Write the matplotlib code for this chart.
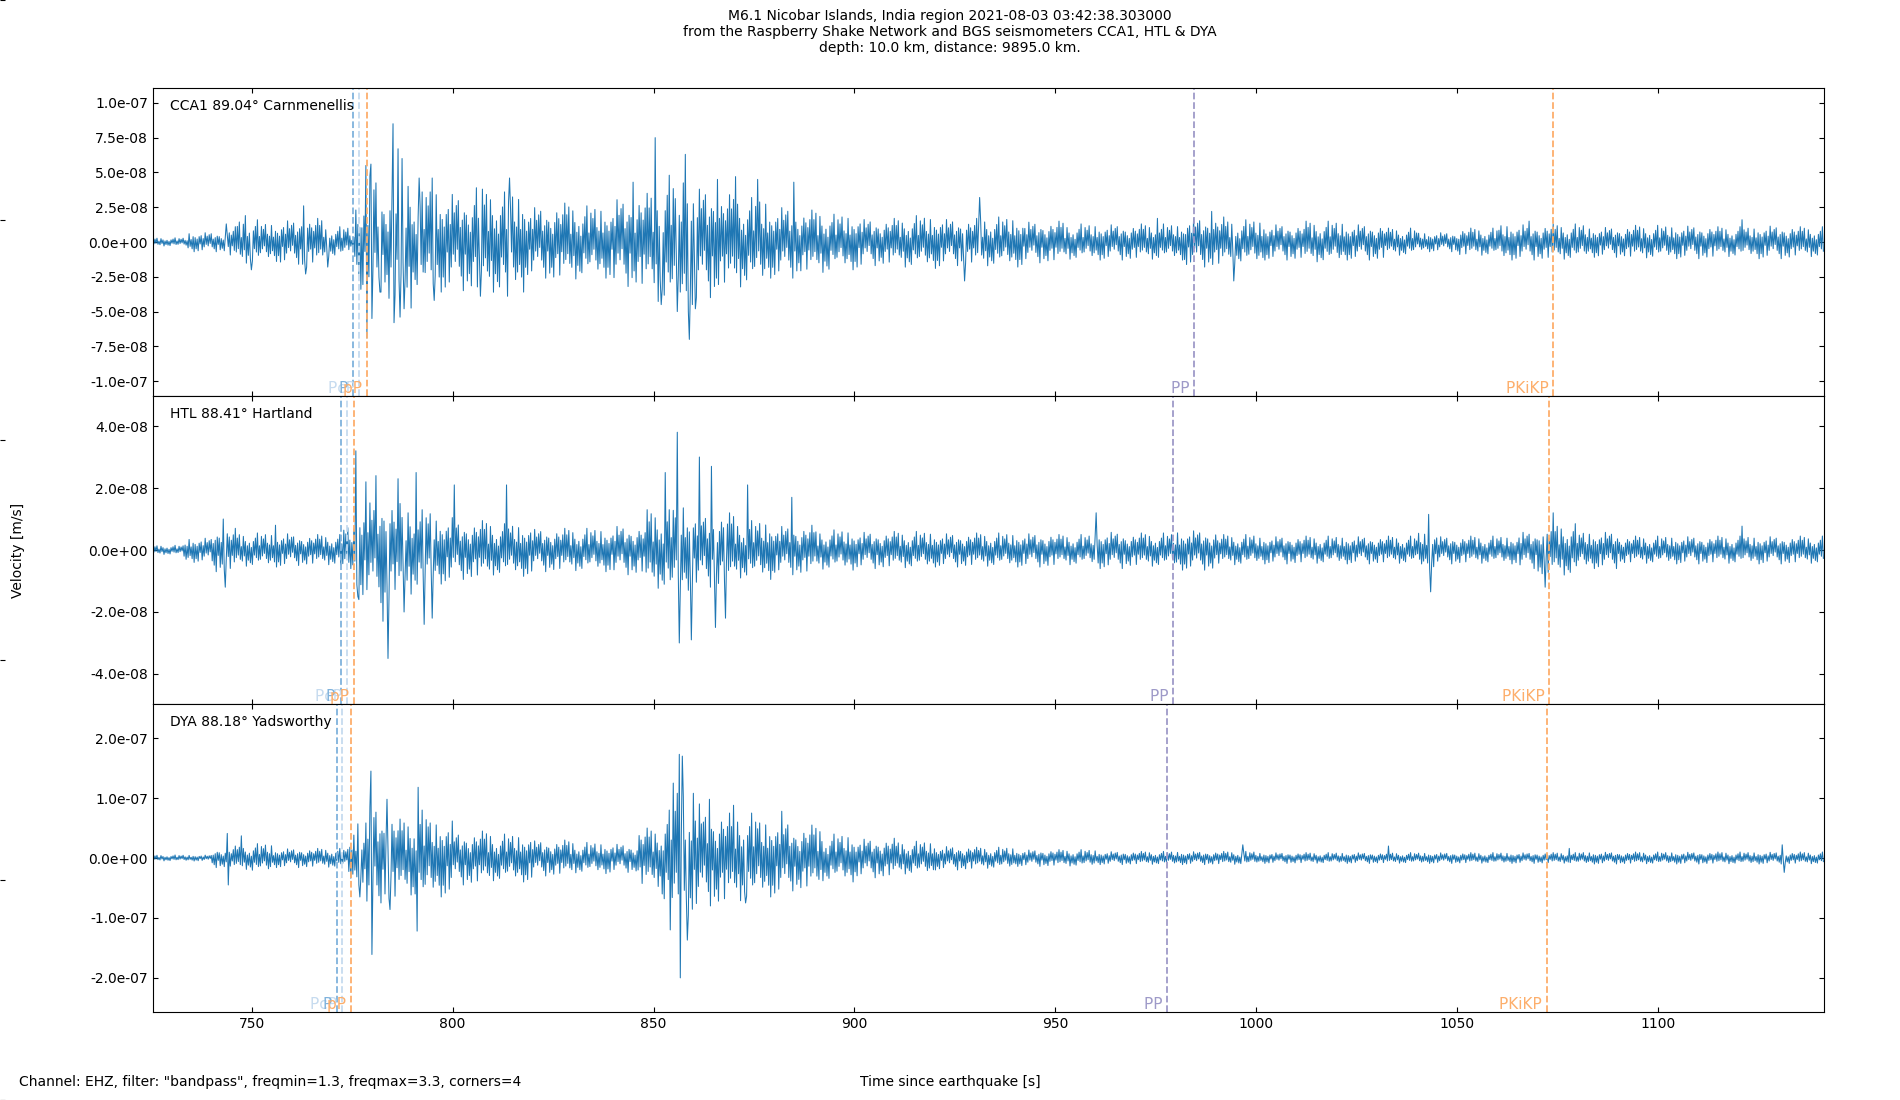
import numpy as np
import matplotlib
matplotlib.use("Agg")
import matplotlib.pyplot as plt
from matplotlib.ticker import MultipleLocator, FormatStrFormatter

# time axis of the traces (seconds since origin)
T_START = 725.4
T_END = 1141.3
DT = 0.25

stations = ["CCA1 89.04\u00b0 Carnmenellis", "HTL 88.41\u00b0 Hartland", "DYA 88.18\u00b0 Yadsworthy"]

# envelope: segment start times and max amplitude (units of 1e-8 m/s)
cca1_env_t = [725, 734, 744, 746, 752, 757, 762, 764, 768, 774.5, 775.5, 777, 779, 781, 784, 786, 790, 793,
              796, 800, 806, 812, 818, 824, 832, 840, 846, 850, 853, 857, 861, 866, 872, 878, 886, 894, 902,
              912, 922, 932, 942, 952, 962, 972, 982, 992, 1002, 1012, 1022, 1032, 1040, 1050, 1060, 1072,
              1082, 1092, 1104, 1114, 1124, 1134]
cca1_env_a = [0.3, 0.7, 1.1, 1.6, 1.4, 1.6, 2.0, 1.7, 1.1, 0.4, 2.3, 3.4, 5.0, 3.6, 4.5, 5.0, 3.6, 4.0,
              3.6, 3.5, 3.8, 3.6, 2.6, 2.8, 2.6, 3.2, 3.5, 4.5, 4.8, 5.0, 4.0, 3.4, 3.2, 2.6, 2.3, 2.0, 1.7,
              1.9, 1.7, 1.8, 1.5, 1.3, 1.3, 1.3, 1.8, 1.6, 1.3, 1.5, 1.3, 1.0, 0.7, 1.0, 1.3, 1.3,
              1.1, 1.2, 1.2, 1.1, 1.2, 1.1]
cca1_spike_t = [743.7, 748.5, 750.0, 762.9, 763.3, 769.0, 776.0, 777.2, 778.5, 778.7, 779.6, 779.9, 782.0,
                785.1, 785.3, 786.5, 786.8, 787.5, 788.0, 791.6, 795.0, 795.3, 806.0, 806.8, 813.7, 814.1,
                845.0, 850.3, 852.0, 856.0, 857.8, 859.0, 860.5, 866.0, 870.5, 876.0, 885.0, 927.3, 931.2,
                975.5, 989.0, 994.5, 1068.0, 1121.0]
cca1_spike_v = [1.3, 1.9, -2.0, 2.6, -2.3, -1.8, 2.3, -3.4, 5.5, -6.9, 5.6, -5.5, -3.6,
                8.5, -5.8, 6.7, -5.4, 6.0, -4.8, 4.6, 4.6, -4.2, 3.9, -3.9, -3.9, 4.6,
                4.3, 7.5, -4.5, -5.0, 6.3, -7.0, -4.8, 4.5, 4.7, 4.5, 4.3, -2.8, 3.2,
                1.7, 2.2, -2.8, 1.5, 1.6]

htl_env_t = [725, 733, 740, 746, 760, 772, 776, 780, 785, 790, 795, 800, 810, 820, 830, 840, 848, 854, 858,
             862, 870, 880, 890, 900, 920, 950, 960, 967, 980, 990, 1000, 1040, 1045, 1065, 1070, 1080, 1090]
htl_env_a = [0.15, 0.4, 0.7, 0.55, 0.5, 0.8, 1.6, 1.7, 1.5, 1.3, 1.1, 0.95, 0.85, 0.7, 0.7, 0.8, 1.3, 1.6, 1.3,
             1.2, 0.95, 0.8, 0.65, 0.6, 0.55, 0.5, 0.6, 0.55, 0.65, 0.5, 0.45, 0.6, 0.45, 0.6, 0.85, 0.6, 0.45]
htl_spike_t = [743.0, 743.4, 756.0, 776.0, 776.4, 778.5, 781.0, 782.6, 784.0, 786.5, 787.8, 791.0, 792.8,
               795.0, 800.5, 813.5, 853.0, 855.9, 856.5, 859.3, 861.5, 864.5, 865.5, 868.0, 873.5, 884.5,
               960.2, 1043.0, 1043.5, 1072.0, 1074.0, 1121.0]
htl_spike_v = [1.0, -1.2, 0.8, 3.2, -1.5, 2.2, 2.4, -2.3, -3.5, 2.3, -2.0, 2.5, -2.4,
               -2.2, 2.1, 2.1, 2.5, 3.8, -3.0, -2.9, 3.0, 2.7, -2.5, -2.2, 2.1, 1.7,
               1.2, 1.15, -1.35, -1.2, 1.2, 0.77]

dya_env_t = [725, 740, 745, 750, 755, 774, 778, 782, 786, 790, 794, 800, 810, 820, 830, 840, 846, 852, 854,
             858, 862, 868, 876, 884, 892, 900, 910, 920, 930, 940, 960, 1000, 1080]
dya_env_a = [0.5, 1.6, 2.0, 2.4, 1.6, 4.5, 9.0, 7.5, 6.5, 8.0, 6.5, 4.5, 4.0, 3.0, 2.6, 2.4, 5.0, 8.0, 12.0,
             9.5, 8.0, 7.5, 6.5, 5.5, 4.0, 3.3, 2.8, 2.0, 1.8, 1.4, 1.1, 0.9, 1.0]
dya_spike_t = [743.8, 744.2, 747.5, 776.5, 777.0, 779.6, 779.9, 783.6, 784.5, 791.2, 791.5, 854.2, 855.0,
               856.3, 856.6, 857.2, 858.5, 860.0, 864.0, 870.0, 873.0, 882.0, 996.7, 1032.9, 1078.0,
               1131.0, 1131.4]
dya_spike_v = [4.1, -4.5, 3.7, 5.7, -6.5, 14.5, -16.1, 9.8, -8.6, -12.2, 11.8, -12.0, 12.5,
               17.3, -20.0, 17.0, -13.7, 10.8, 9.8, 8.8, -7.5, 7.8, 2.2, 2.0, 1.6,
               2.2, -2.4]

# symmetric y limits
y_limits = [1.107e-7, 4.97e-8, 2.57e-7]
y_steps = [2.5e-8, 2e-8, 1e-7]

# phase arrivals (s) for each station
phase_names = ["PcP", "P", "pP", "PP", "PKiKP"]
phase_colors = ["#c6dbef", "#7fb2dc", "#fdae6b", "#9e9ac8", "#fdae6b"]
cca1_arrivals = [776.8, 775.3, 778.6, 984.6, 1073.9]
htl_arrivals = [773.6, 772.1, 775.4, 979.3, 1072.9]
dya_arrivals = [772.5, 771.2, 774.6, 977.9, 1072.3]

# fixed stroke texture used to draw the oscillation inside the envelope
TEXTURE = [1.0, 0.45, 0.7, 0.3, 0.9, 0.55, 0.2, 0.65, 0.8, 0.35, 0.5, 0.95, 0.25, 0.6, 0.4, 0.75, 0.15,
           0.85, 0.5, 0.3, 0.7, 0.45, 1.0, 0.6, 0.25, 0.55, 0.8, 0.35, 0.65, 0.2, 0.9, 0.5, 0.4, 0.75,
           0.3, 0.6, 0.85, 0.45, 0.25, 0.7, 0.55]


def make_trace(env_t, env_a, spike_t, spike_v):
    t = np.arange(T_START, T_END, DT)
    idx = np.searchsorted(env_t, t, side="right") - 1
    idx = np.clip(idx, 0, len(env_a) - 1)
    amp = np.asarray(env_a)[idx]
    sign = np.where(np.arange(len(t)) % 2 == 0, 1.0, -1.0)
    y = amp * np.resize(TEXTURE, len(t)) * sign
    for st, sv in zip(spike_t, spike_v):
        y[np.argmin(np.abs(t - st))] = sv
    return t, y * 1e-8


plt.rcParams["xtick.direction"] = "in"
plt.rcParams["ytick.direction"] = "in"

fig = plt.figure(figsize=(19, 11), dpi=100)

# invisible background axes (only its left ticks show at the figure edge)
bg = fig.add_axes([0, 0, 1, 1], frameon=False)
bg.tick_params(labelleft=False, labelbottom=False, bottom=False)

axes = fig.subplots(3, 1, sharex=True)
fig.subplots_adjust(left=0.0805, right=0.96, top=0.92, bottom=0.08, hspace=0)

traces = [
    make_trace(cca1_env_t, cca1_env_a, cca1_spike_t, cca1_spike_v),
    make_trace(htl_env_t, htl_env_a, htl_spike_t, htl_spike_v),
    make_trace(dya_env_t, dya_env_a, dya_spike_t, dya_spike_v),
]
arrivals = [cca1_arrivals, htl_arrivals, dya_arrivals]

for i, ax in enumerate(axes):
    t, y = traces[i]
    ax.plot(t, y, color="#1f77b4", lw=0.75)
    ax.set_xlim(T_START, T_END)
    ax.set_ylim(-y_limits[i], y_limits[i])
    ax.yaxis.set_major_locator(MultipleLocator(y_steps[i]))
    ax.yaxis.set_major_formatter(FormatStrFormatter("%.1e"))
    ax.tick_params(top=True, right=True)
    ax.text(0.01, 0.94, stations[i], transform=ax.transAxes, va="center", fontsize=10)
    for name, col, ta in zip(phase_names, phase_colors, arrivals[i]):
        ax.axvline(ta, color=col, ls="--", lw=1.3)
        ax.text(ta, -y_limits[i], name + " ", color=col, ha="right", va="bottom", fontsize=11)

axes[-1].xaxis.set_major_locator(MultipleLocator(50))

fig.suptitle("M6.1 Nicobar Islands, India region 2021-08-03 03:42:38.303000\n"
             "from the Raspberry Shake Network and BGS seismometers CCA1, HTL & DYA\n"
             "depth: 10.0 km, distance: 9895.0 km.", fontsize=10, y=0.992)
fig.text(0.0095, 0.5, "Velocity [m/s]", rotation=90, ha="center", va="center", fontsize=10)
fig.text(0.5, 0.01, "Time since earthquake [s]", ha="center", va="bottom", fontsize=10)
fig.text(0.01, 0.01, 'Channel: EHZ, filter: "bandpass", freqmin=1.3, freqmax=3.3, corners=4',
         ha="left", va="bottom", fontsize=10)

plt.savefig("out.png")
